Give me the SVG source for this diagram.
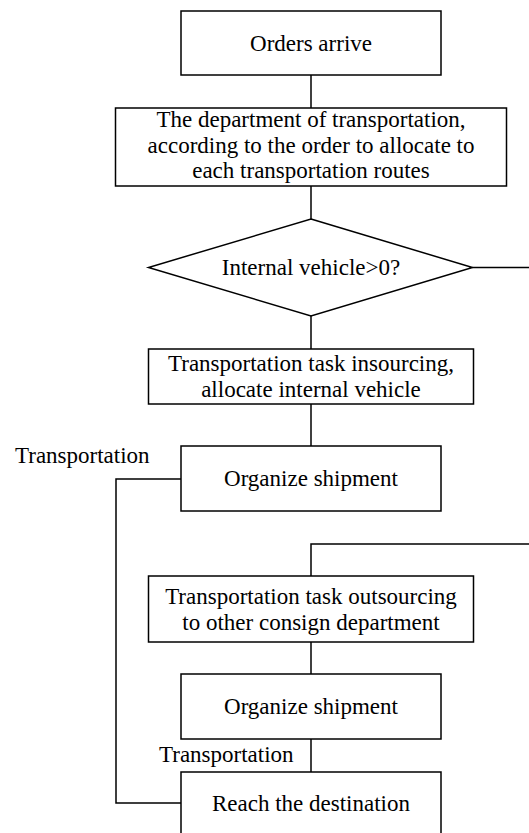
<svg xmlns="http://www.w3.org/2000/svg" width="529" height="833" viewBox="0 0 529 833">
<style>
.n{fill:#fff;stroke:#000;stroke-width:1.5}
.c{fill:none;stroke:#000;stroke-width:1.5}
text{font-family:"Liberation Serif","Times New Roman",serif;font-size:23px;fill:#000}
.m{text-anchor:middle}
</style>
<rect width="529" height="833" fill="#fff"/>
<g id="connectors">
<line class="c" x1="311" y1="75" x2="311" y2="108"/>
<line class="c" x1="311" y1="186" x2="311" y2="219"/>
<line class="c" x1="311" y1="316" x2="311" y2="349"/>
<line class="c" x1="311" y1="404" x2="311" y2="446"/>
<line class="c" x1="472.5" y1="267.5" x2="529" y2="267.5"/>
<polyline class="c" points="529,544 311,544 311,576"/>
<line class="c" x1="311" y1="642" x2="311" y2="674"/>
<line class="c" x1="311" y1="739" x2="311" y2="772"/>
<polyline class="c" points="181,479 116,479 116,803 181,803"/>
<text x="15" y="463">Transportation</text>
<text x="159" y="762">Transportation</text>
</g>
<g id="n1"><rect class="n" x="181" y="11" width="260" height="64"/><text class="m" x="311" y="51">Orders arrive</text></g>
<g id="n2"><rect class="n" x="115.5" y="108" width="391" height="78"/>
<text class="m" x="311" y="127">The department of transportation,</text>
<text class="m" x="311" y="152.5">according to the order to allocate to</text>
<text class="m" x="311" y="178">each transportation routes</text></g>
<g id="n3"><polygon class="n" points="311,219 472.5,267.5 311,316 148.5,267.5"/><text class="m" x="311" y="275">Internal vehicle&gt;0?</text></g>
<g id="n4"><rect class="n" x="148.5" y="349" width="325" height="55"/>
<text class="m" x="311" y="371">Transportation task insourcing,</text>
<text class="m" x="311" y="396.5">allocate internal vehicle</text></g>
<g id="n5"><rect class="n" x="181" y="446" width="260" height="65"/><text class="m" x="311" y="486">Organize shipment</text></g>
<g id="n6"><rect class="n" x="148.5" y="576" width="325" height="66"/>
<text class="m" x="311" y="604">Transportation task outsourcing</text>
<text class="m" x="311" y="630">to other consign department</text></g>
<g id="n7"><rect class="n" x="181" y="674" width="260" height="65"/><text class="m" x="311" y="714">Organize shipment</text></g>
<g id="n8"><rect class="n" x="181" y="772" width="260" height="70"/><text class="m" x="311" y="811">Reach the destination</text></g>
</svg>
